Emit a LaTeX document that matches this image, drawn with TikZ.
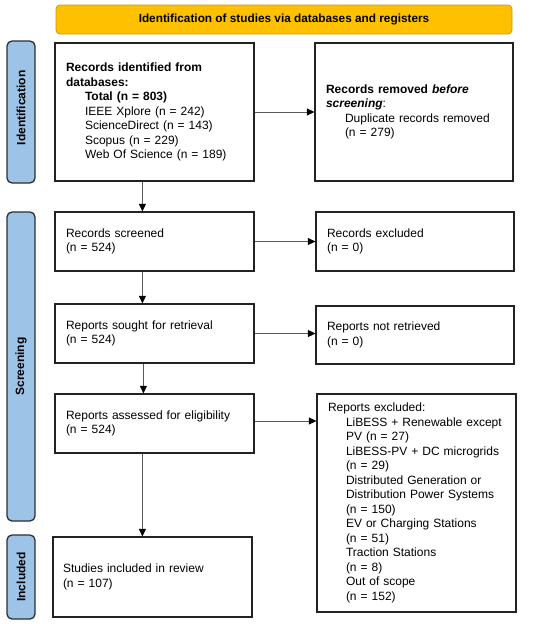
\documentclass[tikz,border=0pt]{standalone}
\usepackage{fontspec}
\setmainfont{Liberation Sans}
\usetikzlibrary{arrows.meta}
\definecolor{banner}{HTML}{FFC000}
\definecolor{bannerline}{HTML}{C99A00}
\definecolor{sidefill}{HTML}{9DC3E6}
\definecolor{sideline}{HTML}{2A2F36}
\definecolor{boxline}{HTML}{222222}
\definecolor{arrline}{HTML}{5A5A5A}
\newcommand{\ind}{\hspace*{19pt}}
\begin{document}
\begin{tikzpicture}[x=1pt,y=-1pt,
  every node/.style={font=\fontsize{12}{14.5}\selectfont},
  flowbox/.style={draw=boxline, line width=1.2pt, fill=white, rectangle,
    inner xsep=11pt, inner ysep=0pt, align=left},
  sidebar/.style={draw=sideline, line width=1.3pt, fill=sidefill, rounded corners=5pt,
    rotate=90, inner sep=0pt, font=\fontsize{12}{14}\selectfont\bfseries},
  topbanner/.style={draw=bannerline, line width=0.8pt, fill=banner, rounded corners=4pt,
    inner sep=0pt, font=\fontsize{11.8}{14}\selectfont\bfseries},
  flowarrow/.style={draw=arrline, line width=0.9pt, -{Triangle[length=7.5pt,width=7pt,black]}}
]
\useasboundingbox (0,0) rectangle (550,624);

% banner and side bars
\node[topbanner, minimum width=456pt, minimum height=29pt] (ban) at (284,19.5)
  {Identification of studies via databases and registers};
\node[sidebar, minimum width=142pt, minimum height=28pt] (sid) at (21,112) {\hspace*{8pt}Identification};
\node[sidebar, minimum width=309pt, minimum height=28pt] (sscr) at (21,366.5) {Screening};
\node[sidebar, minimum width=84pt, minimum height=28pt] (sinc) at (21,577) {Included};

% left column
\node[flowbox, text width=177pt, minimum height=138pt] (ident) at (154.5,112)
  {\textbf{Records identified from}\\
   \textbf{databases:}\\
   \ind\textbf{Total (n = 803)}\\
   \ind IEEE Xplore (n = 242)\\
   \ind ScienceDirect (n = 143)\\
   \ind Scopus (n = 229)\\
   \ind Web Of Science (n = 189)};
\node[flowbox, text width=177pt, minimum height=59pt] (scr) at (154.5,241.5)
  {Records screened\\(n = 524)};
\node[flowbox, text width=177pt, minimum height=59pt] (sought) at (154.5,333.5)
  {Reports sought for retrieval\\(n = 524)};
\node[flowbox, text width=177pt, minimum height=59pt] (assess) at (154.5,423.5)
  {Reports assessed for eligibility\\(n = 524)};
\node[flowbox, text width=179pt, inner xsep=10pt, minimum height=80pt] (incl) at (152.5,577)
  {Studies included in review\\(n = 107)};

% right column
\node[flowbox, text width=176pt, minimum height=138pt] (removed) at (414,112)
  {\textbf{Records removed \textit{before}}\\
   \textbf{\textit{screening}}:\\
   \ind Duplicate records removed\\
   \ind (n = 279)};
\node[flowbox, text width=176pt, minimum height=59pt] (exc) at (415,241.5)
  {Records excluded\\(n = 0)};
\node[flowbox, text width=176pt, minimum height=58pt] (notret) at (415,335)
  {Reports not retrieved\\(n = 0)};
\node[flowbox, text width=177pt, inner xsep=11pt, minimum height=218pt] (excl) at (416.5,503)
  {Reports excluded:\\
   \hspace*{18pt}LiBESS + Renewable except\\
   \hspace*{18pt}PV (n = 27)\\
   \hspace*{18pt}LiBESS-PV + DC microgrids\\
   \hspace*{18pt}(n = 29)\\
   \hspace*{18pt}Distributed Generation or\\
   \hspace*{18pt}Distribution Power Systems\\
   \hspace*{18pt}(n = 150)\\
   \hspace*{18pt}EV or Charging Stations\\
   \hspace*{18pt}(n = 51)\\
   \hspace*{18pt}Traction Stations\\
   \hspace*{18pt}(n = 8)\\
   \hspace*{18pt}Out of scope\\
   \hspace*{18pt}(n = 152)};

% vertical arrows
\draw[flowarrow] ([xshift=88pt]ident.south west) -- ([xshift=88pt]scr.north west);
\draw[flowarrow] ([xshift=88pt]scr.south west) -- ([xshift=88pt]sought.north west);
\draw[flowarrow] ([xshift=89pt]sought.south west) -- ([xshift=89pt]assess.north west);
\draw[flowarrow] ([xshift=88pt]assess.south west) -- ([xshift=90pt]incl.north west);

% horizontal arrows
\draw[flowarrow] (ident.east) -- (ident.east -| removed.west);
\draw[flowarrow] (scr.east) -- (scr.east -| exc.west);
\draw[flowarrow] (sought.east) -- (sought.east -| notret.west);
\draw[flowarrow] ([yshift=2.5pt]assess.east) -- ([yshift=2.5pt]assess.east -| excl.west);
\end{tikzpicture}
\end{document}
